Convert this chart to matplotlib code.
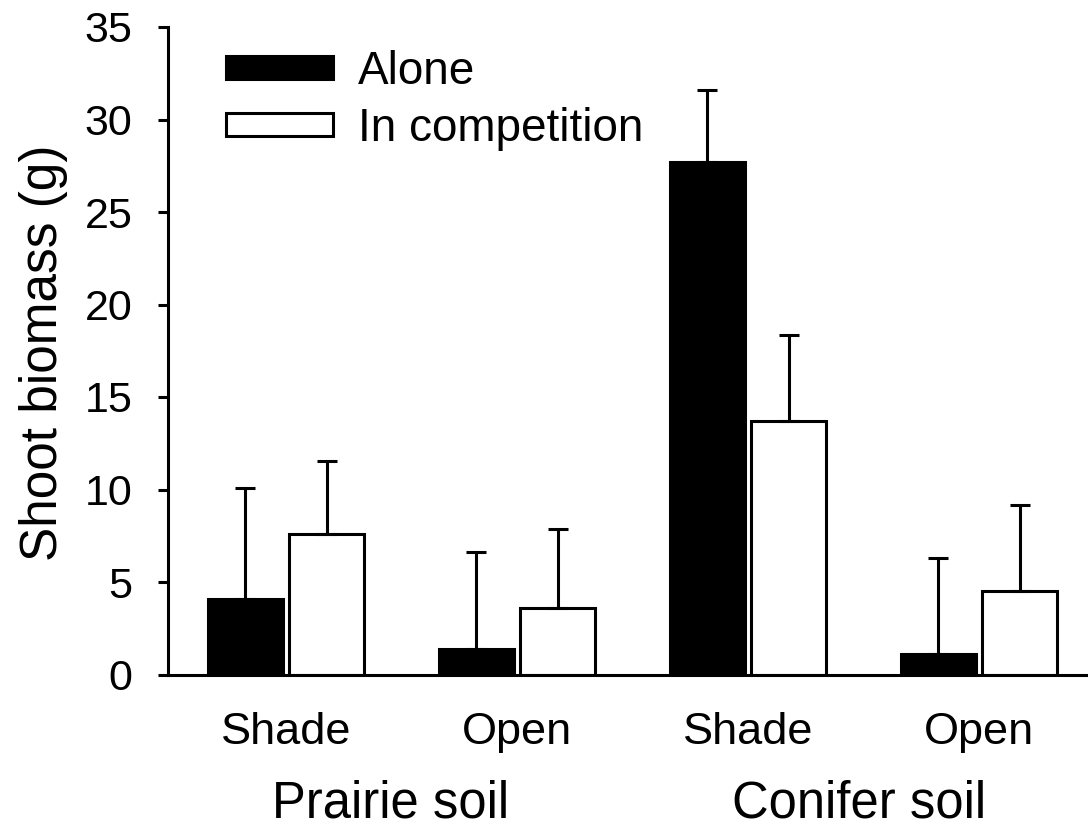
import numpy as np
import matplotlib.pyplot as plt
import matplotlib.transforms as mtransforms

plt.rcParams['font.family'] = ['Liberation Sans', 'DejaVu Sans']

# shoot biomass (g), mean and SE
light = ['Shade', 'Open', 'Shade', 'Open']
soils = ['Prairie soil', 'Conifer soil']
alone = [4.1, 1.4, 27.7, 1.1]
alone_se = [6.0, 5.2, 3.9, 5.2]
comp = [7.6, 3.6, 13.7, 4.5]
comp_se = [3.95, 4.25, 4.65, 4.65]

W, H = 1088, 827
fig = plt.figure(figsize=(W / 100, H / 100), dpi=100)
ax = fig.add_axes([168 / W, (H - 674.5) / H, 1 - 168 / W, (674.5 - 27) / H])

x = np.arange(len(light))
bw = 0.325
off = 0.177
lw = 2.2
ekw = dict(elinewidth=lw, capthick=lw, ecolor='black')

ax.bar(x - off, alone, bw, color='black', edgecolor='black', linewidth=lw,
       yerr=[np.zeros(4), alone_se], capsize=7.5, error_kw=ekw, label='Alone')
ax.bar(x + off, comp, bw, color='white', edgecolor='black', linewidth=lw,
       yerr=[np.zeros(4), comp_se], capsize=7.5, error_kw=ekw, label='In competition')

ax.set_xlim(-0.511, 3.472)
ax.set_ylim(0, 35)
ax.set_yticks(np.arange(0, 36, 5))
ax.set_xticks(x)
ax.set_xticklabels(light)

for s in ['top', 'right']:
    ax.spines[s].set_visible(False)
for s in ['left', 'bottom']:
    ax.spines[s].set_linewidth(lw)

ax.tick_params(axis='y', length=7.2, width=lw, pad=18.5, labelsize=31)
ax.tick_params(axis='x', length=0, pad=27, labelsize=32.5)

# soil group labels under the light labels
trans = mtransforms.blended_transform_factory(ax.transData, fig.transFigure)
for xpos, name in zip([0.452, 2.483], soils):
    ax.text(xpos, 9 / H, name, transform=trans, ha='center', va='baseline', fontsize=36.5)

fig.text(57 / W, (H - 353) / H, 'Shoot biomass (g)', rotation=90, rotation_mode='anchor',
         ha='center', va='baseline', fontsize=37)

ax.legend(loc='upper left', bbox_to_anchor=(226 / W, 1 - 50 / H), bbox_transform=fig.transFigure,
          frameon=False, fontsize=33, handlelength=2.33, handleheight=0.40,
          handletextpad=0.55, labelspacing=0.29, borderpad=0, borderaxespad=0)

fig.savefig('out.png', dpi=100)
